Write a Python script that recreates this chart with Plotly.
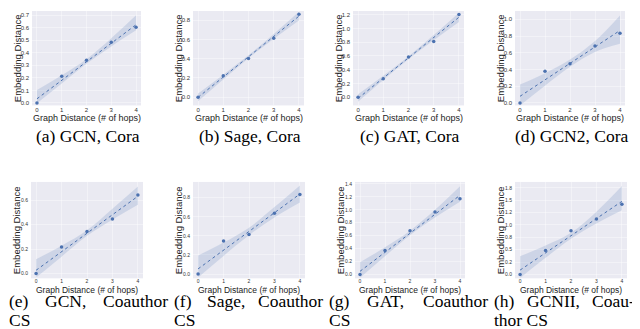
import numpy as np
import plotly.graph_objects as go

# graph distance (# of hops) on the x axis of every panel
hops = [0, 1, 2, 3, 4]

# mean embedding distance per hop
gcn_cora = [0.0, 0.213, 0.341, 0.486, 0.604]
sage_cora = [0.0, 0.224, 0.403, 0.614, 0.862]
gat_cora = [0.0, 0.267, 0.586, 0.810, 1.205]
gcn2_cora = [0.0, 0.380, 0.470, 0.680, 0.835]
gcn_cs = [0.0, 0.216, 0.343, 0.446, 0.643]
sage_cs = [0.0, 0.345, 0.414, 0.638, 0.834]
gat_cs = [0.0, 0.370, 0.675, 0.964, 1.172]
gcnii_cs = [0.0, 0.485, 0.885, 1.120, 1.420]

# confidence band around the fitted line (above / below)
band_up = {
    "a": [0.070, 0.040, 0.020, 0.040, 0.075],
    "b": [0.040, 0.025, 0.015, 0.025, 0.045],
    "c": [0.060, 0.035, 0.020, 0.035, 0.065],
    "d": [0.140, 0.080, 0.045, 0.070, 0.180],
    "e": [0.090, 0.050, 0.025, 0.050, 0.080],
    "f": [0.140, 0.080, 0.040, 0.060, 0.090],
    "g": [0.140, 0.080, 0.040, 0.070, 0.140],
    "h": [0.280, 0.150, 0.060, 0.140, 0.310],
}
band_dn = {
    "a": [0.035, 0.025, 0.015, 0.025, 0.045],
    "b": [0.040, 0.025, 0.015, 0.025, 0.045],
    "c": [0.050, 0.030, 0.020, 0.040, 0.070],
    "d": [0.110, 0.070, 0.040, 0.060, 0.160],
    "e": [0.060, 0.040, 0.020, 0.040, 0.070],
    "f": [0.090, 0.060, 0.040, 0.050, 0.090],
    "g": [0.100, 0.060, 0.030, 0.050, 0.100],
    "h": [0.160, 0.100, 0.060, 0.100, 0.180],
}

# y ticks per panel
yticks = {
    "a": [0.0, 0.1, 0.2, 0.3, 0.4, 0.5, 0.6, 0.7],
    "b": [0.0, 0.2, 0.4, 0.6, 0.8],
    "c": [0.0, 0.2, 0.4, 0.6, 0.8, 1.0, 1.2],
    "d": [0.0, 0.2, 0.4, 0.6, 0.8, 1.0],
    "e": [0.0, 0.2, 0.4, 0.6],
    "f": [0.0, 0.2, 0.4, 0.6, 0.8],
    "g": [0.0, 0.2, 0.4, 0.6, 0.8, 1.0, 1.2, 1.4],
    "h": [0.0, 0.25, 0.5, 0.75, 1.0, 1.25, 1.5, 1.75],
}
# panel (h) labels are rounded to one decimal in the original
h_ticktext = ["0.0", "0.2", "0.5", "0.8", "1.0", "1.2", "1.5", "1.8"]

captions_top = ["(a) GCN, Cora", "(b) Sage, Cora", "(c) GAT, Cora", "(d) GCN2, Cora"]
captions_bottom = [
    ["(e)", "GCN,", "Coauthor", "CS"],
    ["(f)", "Sage,", "Coauthor", "CS"],
    ["(g)", "GAT,", "Coauthor", "CS"],
    ["(h)", "GCNII,", "Coau-", "thor CS"],
]

W, H = 640, 329
BLUE = "#4C72B0"
GRID = "rgba(255,255,255,0.4)"

# panel layout in pixels: key, series, (left, right), (top, bottom), y range
panels = [
    ("a", gcn_cora, (24, 133), (2, 97), (-0.02, 0.735)),
    ("b", sage_cora, (185, 296), (2, 97), (-0.086, 0.897)),
    ("c", gat_cora, (345, 456), (2, 97), (-0.12, 1.255)),
    ("d", gcn2_cora, (507, 617), (2, 97), (-0.03, 1.10)),
    ("e", gcn_cs, (23, 135), (174, 271), (-0.04, 0.75)),
    ("f", sage_cs, (185, 297), (174, 271), (-0.045, 0.965)),
    ("g", gat_cs, (347, 457), (174, 271), (-0.06, 1.43)),
    ("h", gcnii_cs, (507, 619), (174, 271), (-0.08, 1.87)),
]


def px(x):
    return x / W


def py(y):
    return 1 - y / H


fig = go.Figure()
layout = {}
annotations = []

for i, (key, ys, (x0, x1), (y0, y1), yr) in enumerate(panels):
    n = "" if i == 0 else str(i + 1)
    xa, ya = "x" + n, "y" + n
    top_row = y0 < 100

    # regression line through the points, band drawn around it
    slope, icpt = np.polyfit(hops, ys, 1)
    fit = [icpt + slope * h for h in hops]
    hi = [f + u for f, u in zip(fit, band_up[key])]
    lo = [f - d for f, d in zip(fit, band_dn[key])]

    fig.add_trace(go.Scatter(x=hops, y=hi, xaxis=xa, yaxis=ya, mode="lines",
                             line=dict(width=0, shape="spline"), hoverinfo="skip",
                             showlegend=False))
    fig.add_trace(go.Scatter(x=hops, y=lo, xaxis=xa, yaxis=ya, mode="lines",
                             line=dict(width=0, shape="spline"), fill="tonexty",
                             fillcolor="rgba(76,114,176,0.18)", hoverinfo="skip",
                             showlegend=False))
    fig.add_trace(go.Scatter(x=hops, y=fit, xaxis=xa, yaxis=ya, mode="lines",
                             line=dict(color=BLUE, width=1, dash="dot"),
                             showlegend=False))
    fig.add_trace(go.Scatter(x=hops, y=ys, xaxis=xa, yaxis=ya, mode="markers",
                             marker=dict(color=BLUE, size=3.5), showlegend=False))

    tick_font = dict(family="Liberation Sans, Arial", size=6 if top_row else 5, color="#333")
    ytext = h_ticktext if key == "h" else ["%.1f" % v for v in yticks[key]]

    layout["xaxis" + n] = dict(domain=[px(x0), px(x1)], anchor=ya, range=[-0.2, 4.2],
                               tickvals=hops, ticktext=[str(h) for h in hops],
                               showgrid=True, gridcolor=GRID, gridwidth=1,
                               zeroline=False, showline=False, ticks="",
                               tickfont=tick_font, ticklabelstandoff=0 if top_row else -1)
    layout["yaxis" + n] = dict(domain=[py(y1), py(y0)], anchor=xa, range=list(yr),
                               tickvals=yticks[key], ticktext=ytext,
                               showgrid=True, gridcolor=GRID, gridwidth=1,
                               zeroline=False, showline=False, ticks="",
                               tickfont=tick_font, ticklabelstandoff=2)

    # axis titles
    cx = (x0 + x1) / 2
    annotations.append(dict(text="Graph Distance (# of hops)", xref="paper", yref="paper",
                            x=px(cx), y=py(y1 + (13 if top_row else 12)), showarrow=False,
                            xanchor="center", yanchor="middle",
                            font=dict(family="Liberation Sans, Arial",
                                      size=9 if top_row else 8.5, color="#222")))
    annotations.append(dict(text="Embedding Distance", xref="paper", yref="paper",
                            x=px(x0 - 15), y=py((y0 + y1) / 2), textangle=-90,
                            showarrow=False, xanchor="center", yanchor="middle",
                            font=dict(family="Liberation Sans, Arial", size=9.5, color="#222")))

cap_font = dict(family="Liberation Serif, Times New Roman, serif", size=17.5, color="#000")

# top-row captions, centred under each panel
for (key, ys, (x0, x1), (y0, y1), yr), cap in zip(panels[:4], captions_top):
    annotations.append(dict(text=cap, xref="paper", yref="paper", x=px((x0 + x1) / 2 + 1),
                            y=py(128), showarrow=False, xanchor="center", yanchor="middle",
                            font=cap_font))

# bottom-row captions, justified over two lines
col_starts = [0, 165, 320, 485]
col_ends = [161, 316, 481, 628]
mid_pos = [57, 218, 377, 545]
for start, end, mid, words in zip(col_starts, col_ends, mid_pos, captions_bottom):
    for text, x, anchor, y in [(words[0], start, "left", 294), (words[1], mid, "center", 294),
                               (words[2], end, "right", 294), (words[3], start, "left", 313)]:
        annotations.append(dict(text=text, xref="paper", yref="paper", x=px(x), y=py(y),
                                showarrow=False, xanchor=anchor, yanchor="middle",
                                font=cap_font, borderpad=0))

fig.update_layout(
    width=W, height=H,
    margin=dict(l=0, r=0, t=0, b=0),
    paper_bgcolor="white",
    plot_bgcolor="#EAEAF2",
    showlegend=False,
    annotations=annotations,
    **layout,
)

fig.write_html("out.html")
